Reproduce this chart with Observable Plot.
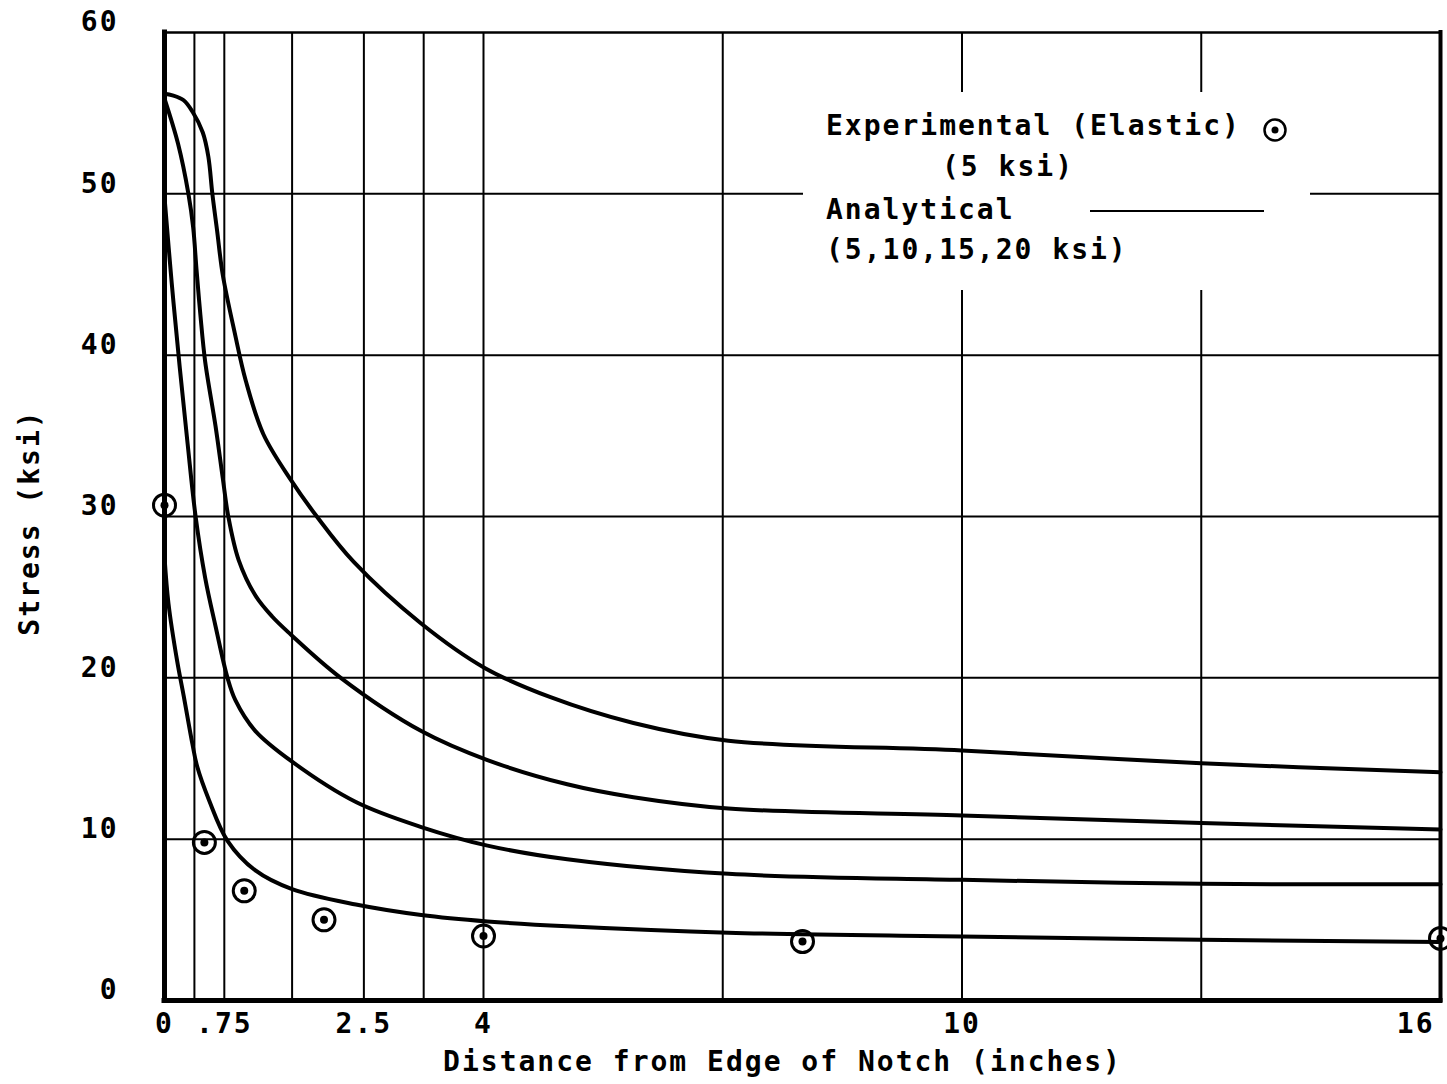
<!DOCTYPE html>
<html>
<head>
<meta charset="utf-8">
<script src="https://cdn.jsdelivr.net/npm/d3@7"></script>
<script src="https://cdn.jsdelivr.net/npm/@observablehq/plot@0.6"></script>
<style>
  body { margin: 0; background: #fff; }
  #wrap { position: relative; width: 1447px; height: 1084px; }
  #wrap svg text { letter-spacing: 2px; }
  .lg { position: absolute; font-family: "DejaVu Sans Mono", monospace; font-size: 28px; font-weight: bold; letter-spacing: 2px; line-height: 28px; color: #000; white-space: pre; }
  #legendBox { position: absolute; left: 803px; top: 92px; width: 507px; height: 198px; background: #fff; }
</style>
</head>
<body>
<div id="wrap"></div>
<script>
// Axis ticks and grid
const xTicks = [0, 0.75, 2.5, 4, 10, 16];
const xTickLabels = ["0", ".75", "2.5", "4", "10", "16"];
const yTicks = [0, 10, 20, 30, 40, 50, 60];
const xGrid = [0.375, 0.75, 1.6, 2.5, 3.25, 4, 7, 10, 13];
const yGrid = [10, 20, 30, 40, 50];

// Analytical stress distributions (distance in inches, stress in ksi)
const dist20 = [0, 0.1, 0.24, 0.35, 0.48, 0.55, 0.6, 0.66, 0.73, 0.88, 1.02, 1.24, 1.58, 1.91, 2.37, 3.21, 4.02, 4.84, 5.88, 7.07, 10, 13, 16];
const stress20 = [56.2, 56.1, 55.8, 55.1, 53.8, 52.3, 50.0, 47.7, 45.0, 41.4, 38.4, 35.1, 32.3, 30.0, 27.2, 23.4, 20.6, 18.8, 17.2, 16.1, 15.5, 14.7, 14.15];

const dist15 = [0, 0.17, 0.3, 0.36, 0.4, 0.45, 0.51, 0.64, 0.73, 0.8, 0.93, 1.14, 1.35, 1.58, 2.21, 3.22, 4.05, 5.05, 5.88, 7.07, 10, 13, 16];
const stress15 = [55.9, 53.1, 50.0, 47.9, 45.4, 42.5, 39.6, 35.6, 32.4, 30.0, 27.3, 25.1, 23.8, 22.7, 20.0, 16.7, 14.9, 13.4, 12.6, 11.9, 11.47, 11.0, 10.6];

const dist10 = [0, 0.09, 0.19, 0.29, 0.39, 0.51, 0.64, 0.79, 0.89, 1.14, 1.6, 2.4, 3.22, 4.05, 5.05, 7.07, 10, 13, 16];
const stress10 = [49.8, 44.5, 39.3, 34.5, 30.0, 26.2, 23.2, 20.0, 18.6, 16.7, 14.8, 12.3, 10.75, 9.6, 8.75, 7.85, 7.48, 7.23, 7.2];

const dist5 = [0, 0.05, 0.16, 0.24, 0.35, 0.41, 0.56, 0.79, 1.14, 1.6, 2.4, 3.22, 4.05, 5.05, 7.07, 10, 13, 16];
const stress5 = [27.5, 24.6, 21.0, 18.9, 15.9, 14.5, 12.4, 9.9, 8.06, 6.9, 5.95, 5.3, 4.9, 4.6, 4.2, 3.97, 3.76, 3.62];

// Experimental (elastic) measurements at 5 ksi
const expDist = [0, 0.5, 1, 2, 4, 8, 16];
const expStress = [30.7, 9.8, 6.8, 5.0, 4.0, 3.65, 3.85];

const xTitle = "Distance from Edge of Notch (inches)";
const yTitle = "Stress (ksi)";

const series = [
  {load: 20, dist: dist20, stress: stress20},
  {load: 15, dist: dist15, stress: stress15},
  {load: 10, dist: dist10, stress: stress10},
  {load: 5, dist: dist5, stress: stress5}
];
const analytical = series.flatMap(s => s.dist.map((d, i) => ({load: s.load, x: d, y: s.stress[i]})));
const experimental = expDist.map((d, i) => ({x: d, y: expStress[i]}));

const font = "DejaVu Sans Mono";
const fs = 28;
const fw = "bold";
const tickRows = xTicks.map((v, i) => ({v, label: xTickLabels[i]}));

const chart = Plot.plot({
  width: 1447,
  height: 1084,
  marginLeft: 164,
  marginRight: 7,
  marginTop: 32,
  marginBottom: 84,
  x: {domain: [0, 16], axis: null},
  y: {domain: [0, 60], axis: null},
  style: {background: "white", color: "black"},
  marks: [
    Plot.ruleX(xGrid, {stroke: "black", strokeWidth: 2}),
    Plot.ruleY(yGrid, {stroke: "black", strokeWidth: 2}),
    Plot.ruleY([60], {stroke: "black", strokeWidth: 2.5}),
    Plot.ruleX([16], {stroke: "black", strokeWidth: 4, strokeLinecap: "square"}),
    Plot.ruleX([0], {stroke: "black", strokeWidth: 5, strokeLinecap: "square"}),
    Plot.ruleY([0], {stroke: "black", strokeWidth: 5, strokeLinecap: "square"}),
    Plot.line(analytical, {x: "x", y: "y", z: "load", curve: "catmull-rom", stroke: "black", strokeWidth: 4}),
    Plot.dot(experimental, {x: "x", y: "y", r: 11, stroke: "black", strokeWidth: 3, fill: "none"}),
    Plot.dot(experimental, {x: "x", y: "y", r: 4, fill: "black", stroke: "none"}),
    // x tick labels
    Plot.text(tickRows.slice(0, -1), {x: "v", text: "label", frameAnchor: "bottom", dy: 32, fontFamily: font, fontSize: fs, fontWeight: fw, fill: "black"}),
    Plot.text(tickRows.slice(-1), {x: "v", text: "label", frameAnchor: "bottom", dy: 32, dx: -6, textAnchor: "end", fontFamily: font, fontSize: fs, fontWeight: fw, fill: "black"}),
    // y tick labels
    Plot.text(yTicks, {y: d => d, text: d => String(d), frameAnchor: "left", textAnchor: "end", dx: -46, dy: -10, fontFamily: font, fontSize: fs, fontWeight: fw, fill: "black"}),
    // axis titles
    Plot.text([xTitle], {text: d => d, frameAnchor: "bottom", dy: 70, dx: -20, fontFamily: font, fontSize: fs, fontWeight: fw, fill: "black"}),
    Plot.text([yTitle], {text: d => d, frameAnchor: "left", textAnchor: "middle", dx: -134, dy: 6, rotate: -90, fontFamily: font, fontSize: fs, fontWeight: fw, fill: "black"})
  ]
});

const wrap = document.getElementById("wrap");
wrap.appendChild(chart);

// Legend panel drawn over the grid
const legend = document.createElement("div");
legend.innerHTML = `
  <div id="legendBox"></div>
  <div class="lg" style="left:826px;top:112px;">Experimental (Elastic)</div>
  <svg style="position:absolute;left:1262px;top:117px;" width="26" height="26">
    <circle cx="13" cy="13" r="10.5" fill="none" stroke="black" stroke-width="2.5"></circle>
    <circle cx="13" cy="13" r="3.5" fill="black"></circle>
  </svg>
  <div class="lg" style="left:942px;top:153px;">(5 ksi)</div>
  <div class="lg" style="left:826px;top:196px;">Analytical</div>
  <svg style="position:absolute;left:1090px;top:209px;" width="174" height="4">
    <line x1="0" y1="2" x2="174" y2="2" stroke="black" stroke-width="2"></line>
  </svg>
  <div class="lg" style="left:826px;top:236px;">(5,10,15,20 ksi)</div>
`;
wrap.appendChild(legend);
</script>
</body>
</html>
